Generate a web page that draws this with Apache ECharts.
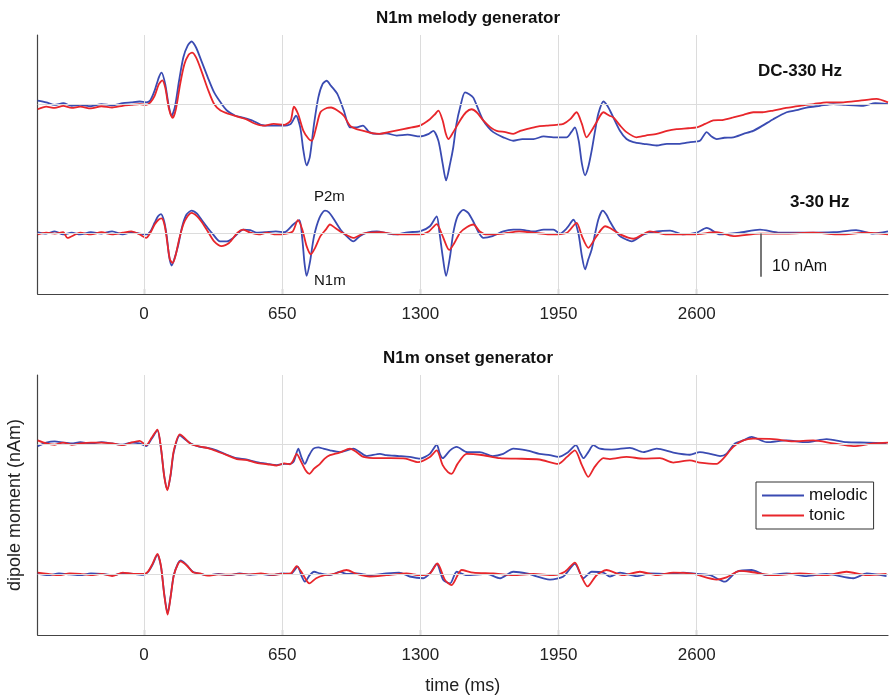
<!DOCTYPE html>
<html>
<head>
<meta charset="utf-8">
<script src="https://cdn.jsdelivr.net/npm/echarts@6/dist/echarts.min.js"></script>
<style>
html,body{margin:0;padding:0;background:#fff;}
#chart{width:889px;height:698px;}
</style>
</head>
<body>
<div id="chart"></div>
<script>
// ---- data: [time (ms), dipole moment (nAm, relative to trace baseline)] ----
const tickValues = [0, 650, 1300, 1950, 2600];
const seriesNames = ['melodic', 'tonic'];

// Top panel: N1m melody generator, DC-330 Hz
const topDcMelodic = [[-500,0.8],[-460,0.4],[-420,-0.2],[-380,0.2],[-340,-0.4],[-300,-0.2],[-250,-0.5],[-200,0],[-150,-0.3],[-100,0.2],[-60,0.4],[-20,0.6],[10,0.4],[30,0.9],[50,3.1],[70,6.2],[83,7.3],[100,4.6],[115,0],[130,-2.7],[145,-0.8],[165,5.4],[185,10.8],[205,13.5],[224,14.5],[245,13.1],[270,10],[300,6.2],[330,2.7],[360,0.4],[390,-1.5],[430,-2.7],[470,-3.2],[510,-3.8],[550,-4.8],[600,-5],[650,-5],[690,-4.6],[715,-2.7],[735,-5.4],[750,-10.8],[765,-14.2],[780,-12.3],[800,-4.6],[820,1.5],[840,4.6],[859,5.4],[880,4.2],[910,2.3],[940,-1.5],[969,-5.4],[1000,-5.4],[1030,-5],[1060,-6.5],[1095,-6.9],[1140,-6.8],[1189,-7.3],[1240,-7.1],[1298,-7.5],[1340,-6.9],[1361,-6.2],[1385,-8.5],[1405,-13.8],[1421,-17.7],[1440,-13.8],[1455,-10],[1470,-4.6],[1487,-0.8],[1510,2.7],[1530,2.3],[1549,1.5],[1575,-1.5],[1596,-3.8],[1620,-5.4],[1643,-6.5],[1690,-7.7],[1737,-8.5],[1780,-8.1],[1832,-8.1],[1880,-7.5],[1926,-7.7],[1988,-7.7],[2010,-6.5],[2027,-5.4],[2045,-8.5],[2060,-13.8],[2075,-16.5],[2090,-14.6],[2106,-10.8],[2122,-6.2],[2137,-2.3],[2161,0.6],[2180,-0.4],[2200,-2.3],[2239,-6.2],[2270,-8.1],[2302,-8.8],[2350,-9.2],[2412,-9.6],[2460,-9.2],[2521,-9.2],[2570,-8.8],[2615,-8.5],[2647,-6.5],[2670,-7.5],[2694,-8.1],[2730,-7.8],[2772,-7.7],[2820,-6.9],[2866,-6.2],[2910,-5],[2960,-3.5],[3023,-1.9],[3070,-1.4],[3117,-0.8],[3180,-0.4],[3243,0],[3300,-0.2],[3384,-0.4],[3440,0.2],[3500,0]];
const topDcTonic = [[-500,-1.2],[-460,-0.6],[-420,-0.9],[-380,-0.4],[-340,-0.9],[-300,-0.6],[-250,-1],[-200,-0.5],[-150,-0.8],[-100,-0.4],[-60,-0.2],[-20,0],[10,-0.2],[30,0.4],[50,1.9],[70,4.6],[86,5.5],[100,3.8],[118,-1.2],[135,-3.2],[150,-1.2],[170,4.6],[190,9.2],[210,11.4],[226,11.9],[245,10.8],[270,7.7],[300,3.5],[330,0],[360,-1.5],[400,-2.3],[440,-2.9],[480,-3.5],[520,-4.5],[560,-5],[610,-4.6],[660,-4.8],[690,-3.8],[705,-0.6],[725,-2.3],[750,-6.2],[775,-8.1],[790,-8.5],[810,-5.4],[830,-1.9],[860,-0.9],[880,-0.8],[910,-1.5],[940,-2.7],[969,-5],[1000,-5.8],[1032,-6.2],[1080,-6.8],[1110,-6.9],[1150,-6.5],[1220,-5.8],[1260,-5.4],[1298,-5],[1345,-3.5],[1370,-2.3],[1385,-1.5],[1405,-3.8],[1420,-6.9],[1432,-8.1],[1455,-6.5],[1487,-3.8],[1515,-1.9],[1541,-1.2],[1565,-1.9],[1596,-3.8],[1630,-5.4],[1659,-6.2],[1700,-6.5],[1737,-6.9],[1770,-6.2],[1800,-5.8],[1850,-5.2],[1894,-5],[1940,-4.8],[1973,-4.6],[2005,-3.5],[2035,-1.9],[2060,-4.6],[2082,-7.7],[2105,-6.2],[2129,-4.2],[2161,-1.9],[2190,-2.7],[2208,-3.1],[2240,-5],[2270,-6.5],[2317,-7.7],[2360,-7.3],[2412,-6.9],[2460,-6.2],[2506,-5.8],[2560,-5.6],[2600,-5.4],[2640,-4.6],[2678,-3.8],[2720,-3.7],[2772,-3.1],[2820,-2.5],[2866,-1.9],[2910,-1.9],[2960,-1.5],[3020,-0.9],[3086,-0.4],[3150,0],[3211,0.4],[3290,0.4],[3368,0.8],[3446,1.2],[3500,0.4]];

// Top panel: 3-30 Hz
const topBandMelodic = [[-500,0.3],[-460,0],[-420,0.5],[-380,-0.2],[-340,0.2],[-300,-0.2],[-250,0.3],[-200,0],[-150,0.5],[-100,-0.2],[-60,0.3],[-20,0],[10,-0.2],[30,0.5],[50,2.5],[66,4],[80,4.5],[95,2.8],[107,-0.6],[118,-5.2],[130,-7.4],[142,-6],[160,-2.9],[180,1.7],[200,4.4],[224,5.3],[250,4.6],[265,3.6],[300,1.3],[325,-0.2],[357,-1.8],[390,-1.8],[420,-1],[467,0.9],[500,0.8],[530,0.2],[570,0.3],[620,0.5],[660,0.3],[702,2.1],[731,3.1],[745,-1.4],[755,-6.8],[765,-9.8],[780,-6.8],[800,-0.6],[825,3.6],[851,5.3],[870,4.9],[895,3.2],[925,0.9],[953,-0.6],[985,-1.8],[1015,-0.6],[1050,0.2],[1095,0.5],[1150,0],[1189,-0.2],[1240,0.3],[1298,0.5],[1345,1.7],[1377,4],[1390,0.2],[1405,-5.2],[1421,-9.8],[1440,-5.2],[1455,0.2],[1475,4],[1502,5.5],[1525,4.8],[1549,2.8],[1575,0.2],[1596,-1],[1640,-0.6],[1690,0.5],[1737,0.9],[1769,0.9],[1832,0.5],[1880,0.9],[1926,0.9],[1957,0],[1990,1.3],[2020,3.2],[2043,0.2],[2060,-5.2],[2075,-8.3],[2090,-6],[2106,-3.7],[2137,3.2],[2158,5.3],[2175,4.4],[2192,2.8],[2215,0.9],[2239,-0.6],[2270,-1.4],[2294,-1.8],[2350,-0.2],[2412,0.5],[2475,0.7],[2537,-0.2],[2600,0.2],[2647,1.3],[2710,-0.2],[2800,0.2],[2898,0.9],[2990,0.2],[3117,0.2],[3243,0.3],[3350,0.8],[3430,0],[3500,0.5]];
const topBandTonic = [[-500,-0.2],[-460,0.2],[-420,0],[-380,0.3],[-360,-1],[-300,0.2],[-250,-0.2],[-200,0.3],[-150,-0.2],[-100,0.2],[-60,0.5],[-20,-0.2],[10,-1],[30,0.2],[50,2.1],[68,3.2],[83,3.5],[98,1.7],[110,-2.2],[122,-6],[135,-6.8],[148,-5.2],[165,-1.4],[185,2.1],[205,4],[224,4.8],[250,4],[270,2.8],[300,0.5],[330,-1.8],[365,-2.9],[400,-2.2],[440,0.2],[467,0.9],[500,0.2],[540,-0.2],[580,0.2],[620,-0.2],[670,0],[700,0.5],[724,3.1],[745,0.9],[765,-2.9],[785,-4.8],[805,-3.3],[830,-0.6],[855,0.9],[875,2.1],[900,1.3],[940,0],[985,-1],[1030,0],[1063,0.2],[1110,0.3],[1160,0],[1220,-0.2],[1298,-0.2],[1340,0.5],[1377,2.2],[1405,-0.6],[1436,-3.8],[1460,-2.2],[1487,0.2],[1520,1.5],[1549,2.1],[1580,0.5],[1612,-0.2],[1690,0],[1765,0.5],[1830,0.2],[1926,-0.2],[1990,0.2],[2035,2.5],[2060,-0.6],[2090,-3.3],[2129,-0.6],[2169,1.7],[2192,1.3],[2240,-0.2],[2302,-1.2],[2380,0.5],[2460,-0.2],[2585,-0.2],[2694,0.3],[2772,-0.6],[2898,0],[3023,0],[3148,0.2],[3274,-0.2],[3400,0.2],[3500,-0.2]];

// Bottom panel: N1m onset generator, DC-330 Hz
const botDcMelodic = [[-500,-0.4],[-460,0.4],[-420,0.7],[-380,0.4],[-340,0.2],[-300,0.5],[-250,0.2],[-200,0.5],[-150,0.2],[-100,-0.1],[-60,0.4],[-20,0.2],[10,-0.4],[36,1.3],[63,3.2],[80,-1],[95,-7.2],[110,-10.4],[125,-7.2],[140,-1.8],[169,2.1],[190,1.3],[220,0.2],[263,-0.6],[300,-0.8],[342,-1.4],[390,-2.4],[436,-3.2],[480,-3.5],[530,-4.1],[580,-4.5],[624,-4.8],[660,-4.5],[687,-4.5],[705,-3.9],[726,-1],[740,-2.9],[757,-4.5],[775,-2.7],[797,-1],[820,-0.7],[844,-1],[875,-1.4],[922,-1.8],[985,-1],[1048,-2.7],[1110,-2.2],[1140,-2.5],[1200,-2.7],[1250,-2.9],[1298,-3.3],[1345,-2.2],[1377,-0.1],[1392,-2.2],[1405,-3.2],[1440,-1.4],[1471,-0.6],[1520,-1.8],[1580,-1.8],[1640,-2.7],[1690,-2.2],[1737,-1],[1800,-1.4],[1860,-2.2],[1910,-2.5],[1949,-2.9],[1995,-1.8],[2032,-0.2],[2050,-1.8],[2067,-3.2],[2090,-1.8],[2114,-0.2],[2145,-1],[2200,-1.2],[2286,-0.8],[2350,-1.8],[2412,-1],[2490,-1.9],[2568,-2.4],[2615,-1.8],[2663,-2.2],[2710,-2.7],[2740,-2.2],[2780,0.2],[2820,0.9],[2858,1.7],[2930,0.5],[3023,0.9],[3117,0.5],[3211,1.2],[3305,0.5],[3400,0.4],[3493,0.2]];
const botDcTonic = [[-500,0.9],[-460,0.2],[-420,-0.1],[-380,0.4],[-340,-0.1],[-300,0.2],[-250,0.4],[-200,0.4],[-150,0.2],[-100,-0.2],[-60,0.4],[-20,0.8],[10,-0.2],[36,1.5],[63,3.4],[80,-0.8],[95,-7.4],[110,-10.6],[125,-7],[140,-1.5],[169,2.3],[190,1.5],[220,0.1],[263,-0.5],[300,-0.9],[342,-1.6],[390,-2.5],[436,-3.4],[480,-3.6],[530,-4.3],[580,-4.6],[624,-4.9],[660,-4.4],[687,-4.6],[700,-3.9],[718,-2.2],[740,-4.1],[760,-6],[778,-6.8],[800,-5.6],[828,-4.5],[850,-3.3],[875,-2.5],[920,-1.9],[969,-1],[1000,-1.8],[1032,-2.9],[1100,-3.2],[1160,-3.2],[1230,-3.3],[1290,-4.1],[1345,-2.9],[1377,-1.4],[1405,-4.8],[1430,-6.4],[1447,-6.8],[1475,-4.5],[1518,-2.2],[1580,-2.4],[1675,-3.2],[1750,-3.3],[1860,-3.5],[1949,-4.5],[1990,-2.9],[2027,-1.4],[2060,-4.8],[2090,-7.5],[2120,-5.2],[2161,-3.2],[2192,-3.4],[2270,-2.9],[2350,-3.3],[2427,-3.2],[2490,-4.2],[2568,-3.7],[2615,-4.2],[2694,-4.5],[2725,-3.3],[2772,-0.6],[2819,0.9],[2866,1.3],[2960,1.2],[3054,0.7],[3148,0.9],[3243,0.2],[3337,-0.4],[3430,0.2],[3500,0.4]];

// Bottom panel: 3-30 Hz
const botBandMelodic = [[-500,0.1],[-450,-0.2],[-400,0.2],[-350,0],[-300,-0.2],[-250,0.2],[-200,0.1],[-150,-0.2],[-100,0.2],[-50,0.1],[0,-0.1],[20,0.6],[40,2.2],[63,4.5],[80,1.8],[95,-4.4],[111,-9],[125,-5.2],[140,-0.2],[160,2.5],[172,3.2],[200,2.2],[230,0.6],[263,0.1],[300,-0.2],[350,0.1],[400,-0.2],[450,0.2],[500,-0.1],[550,0.1],[600,-0.2],[650,0.2],[690,0.1],[723,1.8],[740,-0.2],[757,-1.7],[780,-0.2],[800,0.6],[828,0.2],[875,-0.2],[922,0.6],[953,0.1],[1000,0.2],[1063,-0.2],[1140,0.2],[1200,0.4],[1250,-0.5],[1314,-0.9],[1345,0.2],[1377,2.4],[1408,-1.3],[1440,-2.1],[1471,0.6],[1518,-0.2],[1612,0.1],[1675,-0.9],[1737,0.6],[1800,0.2],[1910,-1.2],[1973,-0.5],[2027,2.4],[2067,-0.9],[2106,0.6],[2161,0.4],[2192,-0.5],[2239,0.4],[2317,-0.4],[2380,0.2],[2459,0.1],[2537,0.4],[2600,0.1],[2663,-0.2],[2733,-1.7],[2788,0.6],[2858,1],[2929,-0.2],[3023,0.2],[3117,-0.4],[3211,0.1],[3337,-0.9],[3400,0.2],[3493,-0.4]];
const botBandTonic = [[-500,0.4],[-450,0.1],[-400,-0.2],[-350,0.2],[-300,0.1],[-250,-0.2],[-200,0.1],[-150,-0.4],[-100,0.4],[-50,0.1],[0,0.1],[20,0.7],[40,2.4],[63,4.7],[80,1.9],[95,-4.6],[111,-9.3],[125,-5.4],[140,-0.3],[160,2.4],[172,3],[200,2.1],[230,0.5],[263,0.2],[300,-0.3],[350,0],[400,-0.1],[450,0.1],[500,0],[550,0.2],[600,-0.1],[650,0.1],[690,0.2],[718,1.9],[745,0.2],[778,-2.1],[810,-0.9],[850,-0.2],[895,0.1],[953,1],[1000,0.1],[1063,-0.5],[1140,-0.2],[1235,0.2],[1298,-0.2],[1345,0.2],[1380,2.5],[1416,-1.3],[1447,-2.5],[1494,1],[1549,0.4],[1643,0.2],[1737,-0.2],[1832,0.1],[1926,-0.2],[1980,0.6],[2027,2.7],[2058,-0.5],[2087,-2.8],[2129,-0.2],[2176,1],[2192,0.8],[2255,-0.2],[2333,0.6],[2412,-0.2],[2490,0.4],[2584,0.1],[2694,-1.2],[2740,-0.7],[2803,0.8],[2850,0.6],[2960,-0.2],[3086,0.2],[3211,-0.2],[3305,0.6],[3400,-0.2],[3493,0.1]];

const scaleBarValue = 10; // nAm
// ---- end of data ----

const DC_OFFSET = 30;      // vertical separation of the DC-330 Hz trace (nAm)
const BLUE = '#3a4bb2';
const RED = '#e8262b';
const FONT = '"Liberation Sans", Arial, Helvetica, sans-serif';

function shift(arr, off) { return arr.map(p => [p[0], p[1] + off]); }
function trace(name, data, color, idx) {
  return {
    type: 'line', name: name, data: data,
    xAxisIndex: idx, yAxisIndex: idx,
    symbol: 'none', smooth: 0.25, z: 3,
    lineStyle: { color: color, width: 1.8 },
    itemStyle: { color: color },
    emphasis: { disabled: true }
  };
}
function refSeries(idx, extra) {
  const data = [{ yAxis: 0 }, { yAxis: DC_OFFSET }].concat(tickValues.map(v => ({ xAxis: v })));
  return {
    type: 'line', data: [], xAxisIndex: idx, yAxisIndex: idx, z: 1, silent: true,
    markLine: {
      silent: true, symbol: 'none', animation: false,
      label: { show: false },
      lineStyle: { color: '#dcdcdc', width: 1, type: 'solid' },
      data: data.concat(extra || [])
    }
  };
}
function xAxisCfg(idx, withName) {
  const a = {
    type: 'value', gridIndex: idx, min: -500, max: 3500,
    axisLine: { show: true, onZero: false, lineStyle: { color: '#444', width: 1.2 } },
    axisTick: { show: true, inside: true, length: 5, customValues: tickValues, lineStyle: { color: '#444', width: 1.2 } },
    axisLabel: { show: true, customValues: tickValues, fontSize: 17, color: '#222', margin: 12, fontFamily: FONT,
                 formatter: v => String(v) },
    splitLine: { show: false }
  };
  if (withName) {
    a.name = 'time (ms)'; a.nameLocation = 'middle'; a.nameGap = 42;
    a.nameTextStyle = { fontSize: 18, color: '#222', fontFamily: FONT };
  }
  return a;
}
function yAxisCfg(idx, withName) {
  const a = {
    type: 'value', gridIndex: idx, min: -14, max: 46,
    axisLine: { show: true, onZero: false, lineStyle: { color: '#444', width: 1.2 } },
    axisTick: { show: false }, axisLabel: { show: false }, splitLine: { show: false }
  };
  if (withName) {
    a.name = 'dipole moment (nAm)'; a.nameLocation = 'middle'; a.nameGap = 14;
    a.nameTextStyle = { fontSize: 18, color: '#222', fontFamily: FONT };
  }
  return a;
}

const chart = echarts.init(document.getElementById('chart'), null, { renderer: 'canvas' });
chart.setOption({
  animation: false,
  backgroundColor: '#fff',
  textStyle: { fontFamily: FONT },
  title: [
    { text: 'N1m melody generator', left: 463, top: 5, textAlign: 'center',
      textStyle: { fontSize: 17, fontWeight: 'bold', color: '#111', fontFamily: FONT } },
    { text: 'N1m onset generator', left: 463, top: 345, textAlign: 'center',
      textStyle: { fontSize: 17, fontWeight: 'bold', color: '#111', fontFamily: FONT } }
  ],
  grid: [
    { left: 37.7, right: 1, top: 35, height: 259, containLabel: false, outerBoundsMode: 'none' },
    { left: 37.7, right: 1, top: 375, height: 260, containLabel: false, outerBoundsMode: 'none' }
  ],
  xAxis: [xAxisCfg(0, false), xAxisCfg(1, true)],
  yAxis: [yAxisCfg(0, false), yAxisCfg(1, true)],
  legend: {
    data: seriesNames, orient: 'vertical', left: 756, top: 482,
    borderColor: '#333', borderWidth: 1, padding: [5, 6, 5, 6],
    icon: 'rect', itemWidth: 42, itemHeight: 2,
    itemGap: 3,
    textStyle: { fontSize: 17, color: '#111', fontFamily: FONT }
  },
  graphic: [
    { type: 'text', left: 758, top: 63, style: { text: 'DC-330 Hz', font: 'bold 17px ' + FONT, fill: '#111' } },
    { type: 'text', left: 790, top: 194, style: { text: '3-30 Hz', font: 'bold 17px ' + FONT, fill: '#111' } },
    { type: 'text', left: 314, top: 189, style: { text: 'P2m', font: '15px ' + FONT, fill: '#111' } },
    { type: 'text', left: 314, top: 273, style: { text: 'N1m', font: '15px ' + FONT, fill: '#111' } },
    { type: 'text', left: 772, top: 259, style: { text: scaleBarValue + ' nAm', font: '16px ' + FONT, fill: '#111' } }
  ],
  series: [
    refSeries(0, [[{ coord: [2900, 0], lineStyle: { color: '#555', width: 1.6 } }, { coord: [2900, -scaleBarValue] }]]),
    refSeries(1),
    trace('melodic', shift(topDcMelodic, DC_OFFSET), BLUE, 0),
    trace('tonic', shift(topDcTonic, DC_OFFSET), RED, 0),
    trace('melodic', topBandMelodic, BLUE, 0),
    trace('tonic', topBandTonic, RED, 0),
    trace('melodic', shift(botDcMelodic, DC_OFFSET), BLUE, 1),
    trace('tonic', shift(botDcTonic, DC_OFFSET), RED, 1),
    trace('melodic', botBandMelodic, BLUE, 1),
    trace('tonic', botBandTonic, RED, 1)
  ]
});
</script>
</body>
</html>
